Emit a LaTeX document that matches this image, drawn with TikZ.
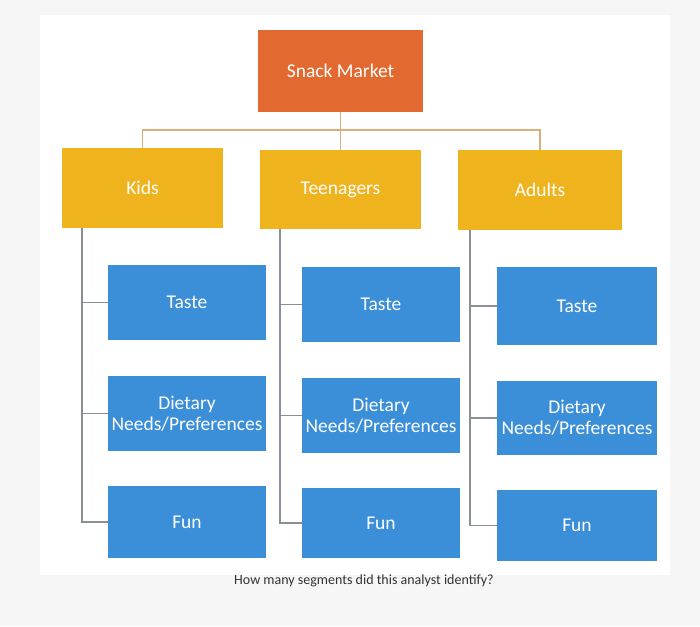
\documentclass[tikz,border=0pt]{standalone}
\usepackage{fontspec}
\setmainfont{Carlito}
\definecolor{org}{HTML}{E2692F}
\definecolor{yel}{HTML}{EFB31E}
\definecolor{blu}{HTML}{3B8FD9}
\definecolor{lin}{HTML}{D9B07A}
\definecolor{gl}{HTML}{8A8F96}
\begin{document}
\begin{tikzpicture}[x=1pt,y=-1pt,
  bx/.style={minimum width=#1,inner sep=1pt,align=center,text=white,font=\fontsize{19.5}{21}\selectfont},
  tline/.style={draw=lin,line width=1.6pt},
  gline/.style={draw=gl,line width=1.2pt}]
\fill[white!93!gray] (0,0) rectangle (700,626);
\fill[white] (40,15) rectangle (670,575);
\node[bx=165pt,minimum height=82pt,fill=org] (sm) at (340.5,71) {Snack Market};
\node[bx=161pt,minimum height=80pt,fill=yel] (k) at (142.5,188) {Kids};
\node[bx=161pt,minimum height=79pt,fill=yel] (t) at (340.5,189.5) {Teenagers};
\node[bx=164pt,minimum height=80pt,fill=yel] (a) at (540,190) {Adults};
\coordinate (j) at (340.5,130);
\draw[tline] (sm.south) -- (j);
\draw[tline] (k.north) |- (j) -| (a.north);
\draw[tline] (j) -- (t.north);
\node[bx=158pt,minimum height=75pt,fill=blu] (k1) at (187,302.5) {Taste};
\node[bx=158pt,minimum height=75pt,fill=blu] (k2) at (187,413.5) {Dietary\\Needs/Preferences};
\node[bx=158pt,minimum height=72pt,fill=blu] (k3) at (187,522) {Fun};
\node[bx=158pt,minimum height=75pt,fill=blu] (t1) at (381,304.5) {Taste};
\node[bx=158pt,minimum height=75pt,fill=blu] (t2) at (381,415.5) {Dietary\\Needs/Preferences};
\node[bx=158pt,minimum height=70pt,fill=blu] (t3) at (381,523) {Fun};
\node[bx=160pt,minimum height=78pt,fill=blu] (a1) at (577,306) {Taste};
\node[bx=160pt,minimum height=74pt,fill=blu] (a2) at (577,418) {Dietary\\Needs/Preferences};
\node[bx=160pt,minimum height=71pt,fill=blu] (a3) at (577,525.5) {Fun};
\coordinate (kc) at (82,228); \coordinate (tc) at (280,229); \coordinate (ac) at (470,230);
\draw[gline] (kc) |- (k3.west); \draw[gline] (kc|-k1.west) -- (k1.west); \draw[gline] (kc|-k2.west) -- (k2.west);
\draw[gline] (tc) |- (t3.west); \draw[gline] (tc|-t1.west) -- (t1.west); \draw[gline] (tc|-t2.west) -- (t2.west);
\draw[gline] (ac) |- (a3.west); \draw[gline] (ac|-a1.west) -- (a1.west); \draw[gline] (ac|-a2.west) -- (a2.west);
\node[font=\fontsize{14}{16}\selectfont,text=black!80] (q) at (364,581) {How many segments did this analyst identify?};
\end{tikzpicture}
\end{document}
